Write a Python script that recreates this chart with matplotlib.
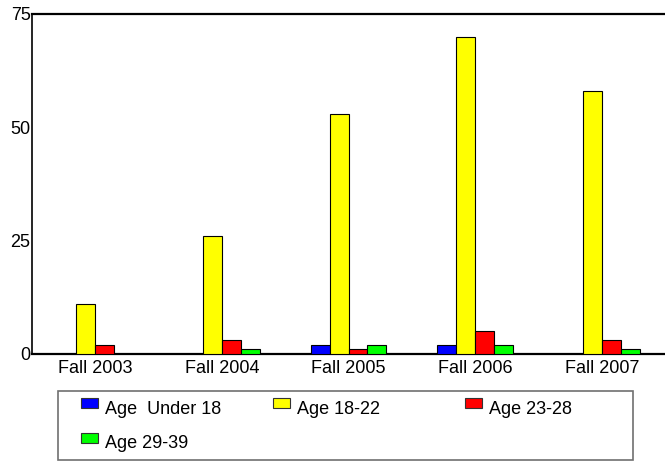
import numpy as np
import matplotlib.pyplot as plt
from matplotlib.patches import Rectangle

plt.rcParams['font.family'] = ['Liberation Sans', 'DejaVu Sans']

# data
terms = ['Fall 2003', 'Fall 2004', 'Fall 2005', 'Fall 2006', 'Fall 2007']
series_names = ['Age  Under 18', 'Age 18-22', 'Age 23-28', 'Age 29-39']
under_18 = [0, 0, 2, 2, 0]
age_18_22 = [11, 26, 53, 70, 58]
age_23_28 = [2, 3, 1, 5, 3]
age_29_39 = [0, 1, 2, 2, 1]
colors = ['#0000ff', '#ffff00', '#ff0000', '#00ff00']

W, H = 665, 462
fig = plt.figure(figsize=(W / 100, H / 100), dpi=100)
ax = fig.add_axes([32 / W, 1 - 354 / H, 1 - 32 / W, 340 / H])

x = np.arange(len(terms)) + 0.5
width = 0.15
for i, (vals, c) in enumerate(zip([under_18, age_18_22, age_23_28, age_29_39], colors)):
    pos = x + (i - 1.5) * width
    v = np.array(vals, dtype=float)
    mask = v > 0  # zero bars are not drawn in the reference
    ax.bar(pos[mask], v[mask], width, color=c, edgecolor='black', linewidth=0.8, zorder=3)

ax.set_xlim(0, 5)
ax.set_ylim(0, 75)
ax.set_yticks([0, 25, 50, 75])
ax.set_xticks(x)
ax.set_xticklabels(terms)
ax.tick_params(axis='x', length=0, labelsize=13, pad=4)
ax.tick_params(axis='y', length=0, labelsize=13, pad=1)

ax.spines['right'].set_visible(False)
ax.spines['top'].set_linewidth(1.6)
ax.spines['bottom'].set_linewidth(1.6)
ax.spines['left'].set_linewidth(1.2)

# legend box, laid out row by row in 3 columns (pixel layout from reference)
fig.add_artist(Rectangle((58 / W, 1 - 460 / H), (633 - 58) / W, (460 - 391) / H,
                         transform=fig.transFigure, facecolor='white',
                         edgecolor='#707070', linewidth=1.2))
for k, (name, c) in enumerate(zip(series_names, colors)):
    row, col = divmod(k, 3)
    hx = 81 + col * 192
    hy = 398 + row * 35
    fig.add_artist(Rectangle((hx / W, 1 - (hy + 10) / H), 17 / W, 10 / H,
                             transform=fig.transFigure, facecolor=c,
                             edgecolor='#333333', linewidth=0.8))
    fig.text((hx + 24) / W, 1 - (hy + 11) / H, name, fontsize=13,
             ha='left', va='center')

fig.savefig('out.png', dpi=100)
